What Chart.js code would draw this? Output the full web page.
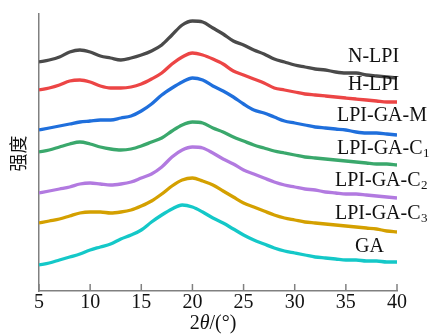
<!DOCTYPE html>
<html><head><meta charset="utf-8">
<script src="https://cdn.jsdelivr.net/npm/chart.js@4/dist/chart.umd.min.js"></script>
<style>html,body{margin:0;padding:0;background:#fff;}canvas{display:block;}</style>
</head><body>
<canvas id="c" width="435" height="335"></canvas>
<script>
const theta = [5,6,7,8,9,10,11,12,13,14,15,16,17,18,19,20,21,22,23,24,25,26,27,28,29,30,31,32,33,34,35,36,37,38,39,40];
const xTicks = [5,10,15,20,25,30,35,40];
const seriesNames = ['N-LPI','H-LPI','LPI-GA-M','LPI-GA-C1','LPI-GA-C2','LPI-GA-C3','GA'];
const nLPI  = [229,231,234,239,241,239,235,233,231,233,236,240,246,256,266,270,269,263,257,250,246,241,237,232,229,226,224,222,221,219,218,218,216,215,214,213];
const hLPI  = [201,203,206,210,211,209,205,203,203,204,207,212,218,227,234,238,236,232,227,220,216,212,208,203,201,199,197,196,195,194,193,192,191,190,189,189];
const gaM   = [161,163,165,167,169,170,171,171,173,175,180,187,196,203,209,213,211,205,200,194,187,181,178,174,170,168,166,164,163,162,161,159,158,158,157,156];
const gaC1  = [139,141,144,147,149,147,144,142,141,142,145,149,153,160,166,169,168,163,159,154,150,146,143,140,138,136,134,133,132,131,130,129,128,127,127,126];
const gaC2  = [98,100,102,104,107,108,107,106,107,109,113,117,124,134,141,144,143,138,132,127,121,117,113,109,106,104,102,101,99,98,97,97,96,95,94,93];
const gaC3  = [68,70,72,75,78,79,79,78,79,81,85,90,97,105,111,113,110,106,100,94,88,84,80,76,73,71,69,68,67,66,65,64,63,62,60,59];
const ga    = [26,28,31,34,37,41,44,47,52,56,61,69,76,82,86,84,79,73,68,62,56,51,47,43,40,38,36,34,33,32,31,31,30,30,29,29];
const allSeries = [nLPI,hLPI,gaM,gaC1,gaC2,gaC3,ga];
const colors = ['#4a4a4a','#ec4545','#1f6fdc','#3aa86c','#b27ae0','#d4a000','#14c8c8'];
// label text: [main, subscript, left x offset from chart left, center y]
const labelDefs = [
  ['N-LPI','',309,57],
  ['H-LPI','',309,85],
  ['LPI-GA-M','',298,116],
  ['LPI-GA-C','1',298,149],
  ['LPI-GA-C','2',296,181],
  ['LPI-GA-C','3',296,214],
  ['GA','',316,247]
];

const SERIF = '"Liberation Serif", "Times New Roman", serif';

const deco = {
  id:'deco',
  afterDraw(chart){
    const ctx = chart.ctx, a = chart.chartArea, xs = chart.scales.x;
    ctx.save();
    ctx.strokeStyle = '#808080'; ctx.lineWidth = 1.5;
    xTicks.forEach(v=>{
      const px = xs.getPixelForValue(v);
      ctx.beginPath(); ctx.moveTo(px, a.bottom); ctx.lineTo(px, a.bottom-7); ctx.stroke();
    });
    ctx.fillStyle = '#111'; ctx.textBaseline = 'middle'; ctx.textAlign = 'left';
    labelDefs.forEach(([m,s,dx,cy])=>{
      ctx.font = '20px ' + SERIF;
      const x0 = a.left + dx;
      ctx.fillText(m, x0, cy);
      if (s){
        const w = ctx.measureText(m).width;
        ctx.font = '13px ' + SERIF;
        ctx.fillText(s, x0 + w + 0.5, cy + 5);
      }
    });
    const parts = [['2','20px '+SERIF],['θ','italic 20px '+SERIF],['/(°)','20px '+SERIF]];
    let tw = 0;
    parts.forEach(p=>{ctx.font=p[1]; tw += ctx.measureText(p[0]).width;});
    let x = (a.left + a.right)/2 - 5 - tw/2;
    parts.forEach(p=>{ctx.font=p[1]; ctx.fillText(p[0], x, 324); x += ctx.measureText(p[0]).width;});
    ctx.translate(18, (a.top + a.bottom)/2 + 1);
    ctx.rotate(-Math.PI/2);
    ctx.textAlign = 'center';
    ctx.font = '18px "Noto Sans CJK SC", sans-serif';
    ctx.fillText('强度', 0, 0);
    ctx.restore();
  }
};

new Chart(document.getElementById('c'), {
  type:'line',
  data:{
    datasets: seriesNames.map((n,i)=>({
      label:n,
      data: theta.map((t,j)=>({x:t, y:allSeries[i][j]})),
      borderColor: colors[i],
      borderWidth: 3.3,
      pointRadius: 0,
      cubicInterpolationMode: 'monotone',
      fill:false
    }))
  },
  options:{
    responsive:false, animation:false, devicePixelRatio:1,
    layout:{padding:{left:0,right:38,top:14,bottom:0}},
    plugins:{legend:{display:false}, tooltip:{enabled:false}},
    scales:{
      x:{type:'linear', min:5, max:40,
         ticks:{stepSize:5, padding:0, maxRotation:0, color:'#111', font:{family:SERIF, size:20}},
         grid:{drawOnChartArea:false, drawTicks:false},
         border:{color:'#808080', width:1.5},
         afterFit(s){ s.height = 44; }},
      y:{min:0, max:277,
         ticks:{display:false},
         grid:{display:false, drawTicks:false},
         border:{display:true, color:'#808080', width:1.5},
         afterFit(s){ s.width = 39; }}
    }
  },
  plugins:[deco]
});
</script>
</body></html>
